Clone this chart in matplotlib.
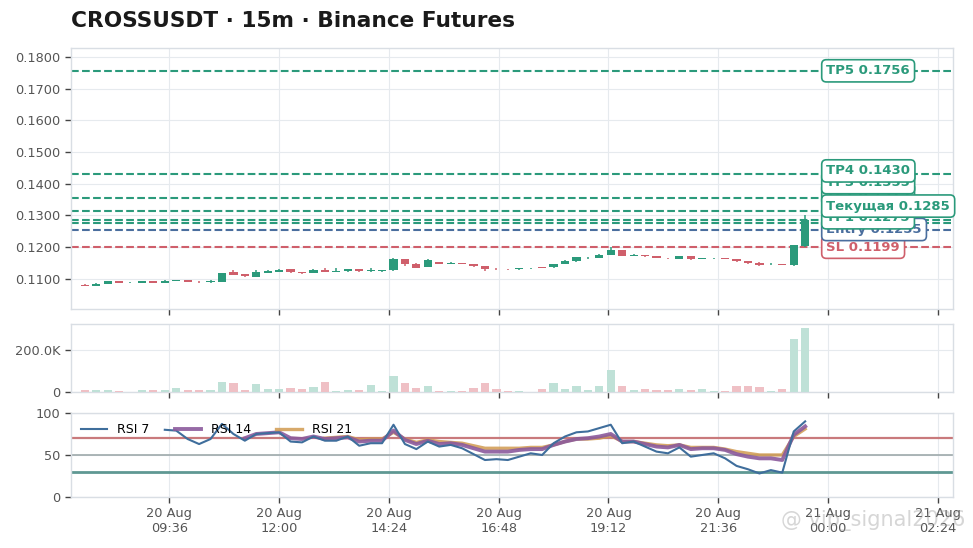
"""
CROSSUSDT 15m candles with trade levels, volume and RSI
"""

import matplotlib
matplotlib.use("Agg")
import matplotlib.pyplot as plt
import matplotlib.dates as mdates
from matplotlib.ticker import FuncFormatter, MultipleLocator
import numpy as np
import pandas as pd

# ---- data ----
times = pd.date_range("2025-08-20 07:45", periods=64, freq="15min")

opens = [0.1080, 0.1077, 0.1083, 0.1091, 0.1086, 0.1086, 0.1091, 0.1086, 0.1093, 0.1095,
         0.1090, 0.1088, 0.1090, 0.1120, 0.1113, 0.1106, 0.1119, 0.1122, 0.1129, 0.1121,
         0.1119, 0.1128, 0.1122, 0.1123, 0.1130, 0.1123, 0.1125, 0.1126, 0.1161, 0.1147,
         0.1137, 0.1152, 0.1147, 0.1149, 0.1146, 0.1139, 0.1131, 0.1130, 0.1129, 0.1132,
         0.1135, 0.1136, 0.1146, 0.1155, 0.1164, 0.1165, 0.1175, 0.1189, 0.1172, 0.1175,
         0.1170, 0.1165, 0.1162, 0.1171, 0.1162, 0.1164, 0.1165, 0.1162, 0.1156, 0.1150,
         0.1145, 0.1146, 0.1142, 0.1203]
closes = [0.1078, 0.1084, 0.1091, 0.1086, 0.1087, 0.1091, 0.1086, 0.1094, 0.1095, 0.1090,
          0.1088, 0.1094, 0.1118, 0.1111, 0.1107, 0.1122, 0.1125, 0.1128, 0.1120, 0.1118,
          0.1128, 0.1122, 0.1124, 0.1130, 0.1123, 0.1128, 0.1127, 0.1163, 0.1145, 0.1135,
          0.1158, 0.1147, 0.1149, 0.1146, 0.1139, 0.1131, 0.1130, 0.1129, 0.1132, 0.1134,
          0.1134, 0.1146, 0.1157, 0.1168, 0.1166, 0.1176, 0.1189, 0.1171, 0.1175, 0.1170,
          0.1165, 0.1164, 0.1171, 0.1161, 0.1164, 0.1165, 0.1162, 0.1155, 0.1149, 0.1144,
          0.1147, 0.1143, 0.1205, 0.1285]
highs = [0.1082, 0.1086, 0.1092, 0.1092, 0.1089, 0.1092, 0.1092, 0.1095, 0.1097, 0.1096,
         0.1091, 0.1095, 0.1119, 0.1127, 0.1114, 0.1126, 0.1127, 0.1131, 0.1130, 0.1122,
         0.1129, 0.1132, 0.1133, 0.1131, 0.1131, 0.1134, 0.1128, 0.1164, 0.1162, 0.1148,
         0.1162, 0.1153, 0.1151, 0.1150, 0.1147, 0.1140, 0.1133, 0.1131, 0.1133, 0.1135,
         0.1136, 0.1147, 0.1158, 0.1169, 0.1168, 0.1177, 0.1200, 0.1190, 0.1177, 0.1176,
         0.1171, 0.1166, 0.1172, 0.1172, 0.1165, 0.1166, 0.1166, 0.1163, 0.1157, 0.1151,
         0.1148, 0.1147, 0.1206, 0.1302]
lows = [0.1076, 0.1076, 0.1082, 0.1085, 0.1085, 0.1085, 0.1085, 0.1085, 0.1092, 0.1089,
        0.1087, 0.1087, 0.1089, 0.1110, 0.1106, 0.1105, 0.1118, 0.1121, 0.1119, 0.1114,
        0.1118, 0.1121, 0.1120, 0.1122, 0.1122, 0.1122, 0.1121, 0.1125, 0.1141, 0.1134,
        0.1136, 0.1146, 0.1146, 0.1145, 0.1138, 0.1124, 0.1126, 0.1126, 0.1128, 0.1131,
        0.1133, 0.1135, 0.1145, 0.1154, 0.1163, 0.1164, 0.1174, 0.1170, 0.1171, 0.1169,
        0.1164, 0.1163, 0.1161, 0.1160, 0.1161, 0.1163, 0.1161, 0.1154, 0.1146, 0.1139,
        0.1144, 0.1142, 0.1141, 0.1200]

# volume in thousands
volume_k = [10, 10, 10, 5, 2, 10, 10, 10, 20, 10,
            10, 10, 49, 41, 11, 39, 15, 15, 20, 15,
            24, 49, 5, 11, 11, 36, 5, 75, 45, 21,
            29, 5, 3, 5, 18, 44, 13, 3, 3, 2,
            13, 42, 13, 29, 10, 28, 107, 28, 8, 13,
            10, 10, 13, 10, 13, 5, 5, 29, 29, 24,
            5, 15, 257, 306]

N = None
rsi7 = [N] * 7 + [80, 79, 69, 63, 69, 87, 75, 67, 75, 76, 77, 66, 65, 72, 67, 67, 72, 61,
                  64, 64, 86, 63, 57, 66, 60, 62, 58, 51, 44, 45, 44, 48, 52, 50, 64, 72,
                  77, 78, 82, 86, 64, 66, 60, 54, 52, 59, 48, 50, 52, 46, 37, 33, 28, 32,
                  29, 78, 90]
rsi14 = [N] * 14 + [70, 75, 76, 77, 70, 69, 72, 69, 70, 71, 66, 67, 67, 79, 68, 63, 67,
                    63, 64, 62, 58, 54, 54, 54, 56, 57, 57, 62, 66, 69, 70, 72, 75, 66,
                    66, 63, 60, 59, 62, 57, 58, 58, 56, 51, 48, 46, 46, 44, 74, 84]
rsi21 = [N] * 21 + [70, 71, 72, 68, 69, 69, 77, 69, 65, 68, 66, 65, 64, 61, 58, 58,
                    58, 58, 59, 59, 62, 66, 69, 69, 70, 73, 66, 66, 64, 62, 61, 62, 59,
                    59, 59, 57, 54, 52, 50, 50, 50, 72, 81]

level_names = ["SL", "Entry", "TP1", "TP2", "TP3", "TP4", "TP5"]
level_prices = [0.1199, 0.1255, 0.1275, 0.1315, 0.1355, 0.1430, 0.1756]
current_name = "Текущая"
current_price = 0.1285

tick_times = pd.date_range("2025-08-20 09:36", periods=8, freq="144min")

# ---- style ----
GREEN = "#2b9a7b"
RED = "#cf5f6b"
BLUE = "#4a6e9e"
TXT = "#555555"
GRID = "#e6eaee"
SPINE = "#d9dee4"

plt.rcParams["font.family"] = ["DejaVu Sans"]

fig = plt.figure(figsize=(9.73, 5.48), dpi=100)
L, W = 0.073, 0.9065
ax = fig.add_axes([L, 0.4361, W, 0.4763])
axv = fig.add_axes([L, 0.2847, W, 0.1241], sharex=ax)
axr = fig.add_axes([L, 0.0931, W, 0.1533], sharex=ax)

fig.text(L, 0.962, "CROSSUSDT · 15m · Binance Futures", fontsize=15.6,
         fontweight="bold", color="#1a1a1a", va="center", ha="left")

x = mdates.date2num(times)
step = 15 / (24 * 60)
o = np.array(opens)
c = np.array(closes)
up = c >= o
cols = np.where(up, GREEN, RED)

# candles
ax.vlines(x, lows, highs, colors=cols, linewidth=1.1, zorder=3)
body = np.maximum(np.abs(c - o), 0.00014)
ax.bar(x, body, bottom=np.minimum(o, c), width=step * 0.72, color=cols,
       linewidth=0, zorder=4)

# level lines
level_colors = {"SL": RED, "Entry": BLUE}
for name, price in zip(level_names, level_prices):
    ax.axhline(price, color=level_colors.get(name, GREEN), linestyle="--",
               linewidth=1.5, zorder=2)
ax.axhline(current_price, color=GREEN, linestyle="--", linewidth=1.5, zorder=2)

# labels pushed apart so they don't sit on top of each other
entries = [(p, n, level_colors.get(n, GREEN), 6) for n, p in zip(level_names, level_prices)]
entries.append((current_price, current_name, GREEN, 7))
entries.sort(key=lambda e: e[0])
gap = 0.0037
label_x = x[-1] + 1.85 * step
prev = -1
for price, name, col, z in entries:
    ypos = max(price, prev + gap)
    prev = ypos
    ax.text(label_x, ypos, f"{name} {price:.4f}", fontsize=9.5, fontweight="bold",
            color=col, ha="left", va="center", zorder=z,
            bbox=dict(boxstyle="round,pad=0.35", facecolor="white", edgecolor=col,
                      linewidth=1.2))

ax.set_ylim(min(lows) - 0.0072, max(level_prices) + 0.0072)
ax.yaxis.set_major_locator(MultipleLocator(0.01))
ax.yaxis.set_major_formatter(FuncFormatter(lambda v, p: f"{v:.4f}"))

# volume
vcols = np.where(up, "#bfe1d7", "#efc0c5")
vol = np.array(volume_k) * 1000
axv.bar(x, vol, width=step * 0.72, color=vcols, linewidth=0, zorder=3)
axv.set_ylim(0, vol.max() * 1.07)
axv.yaxis.set_major_locator(MultipleLocator(200000))
axv.yaxis.set_major_formatter(FuncFormatter(lambda v, p: "0" if v == 0 else f"{v/1000:.1f}K"))

# RSI
axr.axhline(70, color="#c97a7c", linewidth=1.6, zorder=2)
axr.axhline(50, color="#9eaaab", linewidth=1.2, zorder=2)
axr.axhline(30, color="#5f9893", linewidth=2.0, zorder=2)
r7 = np.array(rsi7, dtype=float)
r14 = np.array(rsi14, dtype=float)
r21 = np.array(rsi21, dtype=float)
axr.plot(x, r7, color="#3f6e9c", linewidth=1.5, label="RSI 7", zorder=5)
axr.plot(x, r14, color="#8b5a9c", linewidth=2.8, alpha=0.9, label="RSI 14", zorder=4)
axr.plot(x, r21, color="#d19a50", linewidth=2.4, alpha=0.85, label="RSI 21", zorder=3)
axr.set_ylim(0, 100)
axr.set_yticks([0, 50, 100])
axr.legend(loc="upper left", ncol=3, frameon=False, fontsize=9, handlelength=2.1,
           columnspacing=2.0, borderaxespad=0.4)

# shared x axis
ax.set_xlim(mdates.date2num(pd.Timestamp("2025-08-20 07:27")),
            mdates.date2num(pd.Timestamp("2025-08-21 02:44")))
for a in (ax, axv, axr):
    a.set_xticks(mdates.date2num(tick_times))
    a.grid(True, color=GRID, linewidth=0.8, zorder=0)
    a.set_axisbelow(True)
    for s in a.spines.values():
        s.set_color(SPINE)
        s.set_linewidth(1.0)
    a.tick_params(colors="#444444", labelcolor=TXT, labelsize=9.3, length=4, width=1)
    a.set_facecolor("white")
axr.xaxis.set_major_formatter(mdates.DateFormatter("%d %b\n%H:%M"))
plt.setp(ax.get_xticklabels(), visible=False)
plt.setp(axv.get_xticklabels(), visible=False)

# watermark laid over the corner, as in the source image
fig.text(0.803, 0.05, "@ vip_signal2026", fontsize=15, color="#9a9a9a", alpha=0.4,
         ha="left", va="center")

fig.savefig("out.png", dpi=100)
print("Saved out.png")
